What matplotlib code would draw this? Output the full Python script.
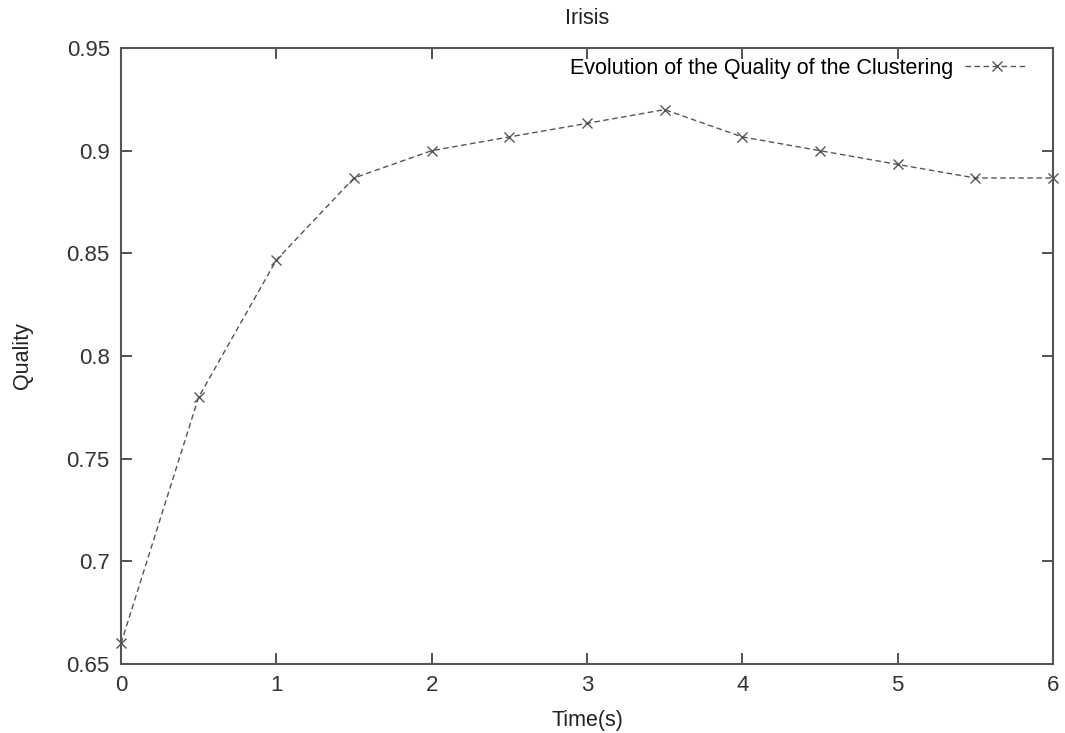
import matplotlib
matplotlib.use("Agg")
import matplotlib.pyplot as plt

time_s = [0, 0.5, 1, 1.5, 2, 2.5, 3, 3.5, 4, 4.5, 5, 5.5, 6]
quality = [0.66, 0.78, 0.8467, 0.8867, 0.90, 0.9067, 0.9133, 0.92,
           0.9067, 0.90, 0.8933, 0.8867, 0.8867]
xticks = [0, 1, 2, 3, 4, 5, 6]
yticks = [0.65, 0.7, 0.75, 0.8, 0.85, 0.9, 0.95]

plt.rcParams['font.family'] = ['Liberation Sans', 'DejaVu Sans']
fig = plt.figure(figsize=(10.65, 7.33), dpi=100)
ax = fig.add_axes([0.1136, 0.0941, 0.8751, 0.8404])

ax.plot(time_s, quality, color='#555555', linestyle=(0, (4, 2.5)), linewidth=1.0,
        marker='x', markersize=7, markeredgewidth=1.0,
        label='Evolution of the Quality of the Clustering', clip_on=False)

ax.set_xlim(0, 6)
ax.set_ylim(0.65, 0.95)
ax.set_xticks(xticks)
ax.set_xticklabels([str(t) for t in xticks])
ax.set_yticks(yticks)
ax.set_yticklabels(['0.65', '0.7', '0.75', '0.8', '0.85', '0.9', '0.95'])
ax.tick_params(direction='in', length=8, width=1.2, top=True, right=True,
               labelsize=16, colors='#333333', pad=8)
for s in ax.spines.values():
    s.set_color('#555555')
    s.set_linewidth(1.5)

ax.set_title('Irisis', fontsize=15.5, color='#222222', pad=17)
ax.set_xlabel('Time(s)', fontsize=15.5, color='#222222', labelpad=10)
ax.set_ylabel('Quality', fontsize=15.5, color='#222222', labelpad=24)

leg = ax.legend(loc='center right', bbox_to_anchor=(0.973, 0.9675),
                frameon=False, markerfirst=False, fontsize=15.5,
                handlelength=2.9, handletextpad=0.56,
                borderpad=0, borderaxespad=0)

fig.savefig('out.png', dpi=100)
